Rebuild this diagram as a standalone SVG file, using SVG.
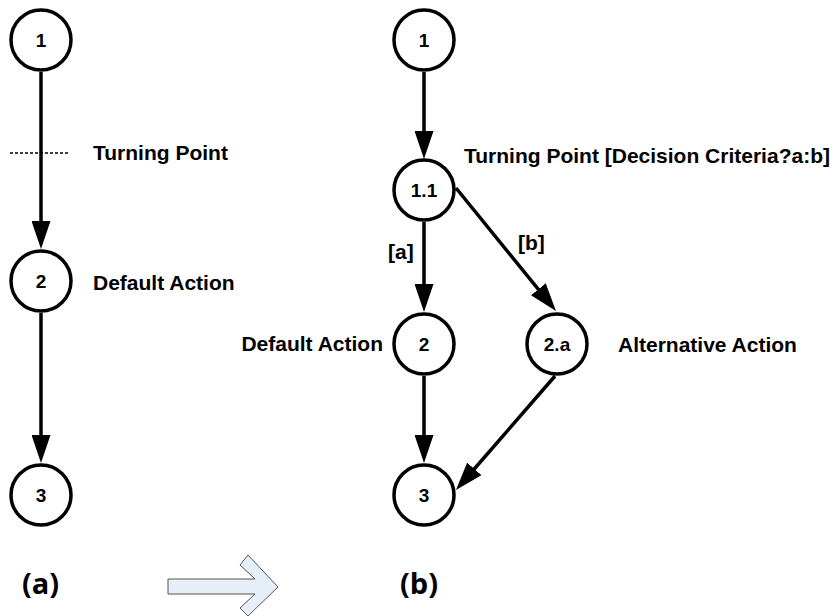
<svg xmlns="http://www.w3.org/2000/svg" width="839" height="616" viewBox="0 0 839 616">
<style>
.node circle{fill:#fff;stroke:#000;stroke-width:3.5}
.num{font-family:"Liberation Sans",Arial,sans-serif;font-weight:bold;font-size:19px;text-anchor:middle;fill:#000}
.lbl{font-family:"Liberation Sans",Arial,sans-serif;font-weight:bold;font-size:21px;fill:#000}
.cap{font-family:"Open Sans","Liberation Sans",sans-serif;font-weight:bold;font-size:29px;fill:#000}
.edge{stroke:#000;stroke-width:3.5;fill:none;marker-end:url(#ah)}
</style>
<defs>
<marker id="ah" markerUnits="userSpaceOnUse" markerWidth="28" markerHeight="19" refX="22" refY="9.5" orient="auto">
<path d="M0,0 L28,9.5 L0,19 z" fill="#000"/>
</marker>
</defs>
<rect width="839" height="616" fill="#fff"/>
<g id="connectors">
<line class="edge" x1="41" y1="72" x2="41" y2="243"/>
<line class="edge" x1="41" y1="313" x2="41" y2="457"/>
<line class="edge" x1="424" y1="72" x2="424" y2="153"/>
<line class="edge" x1="424" y1="222" x2="424" y2="306"/>
<line class="edge" x1="424" y1="376" x2="424" y2="457"/>
<line class="edge" x1="456" y1="188" x2="552.2" y2="306.4"/>
<line class="edge" x1="555" y1="376" x2="459.9" y2="485.5"/>
<line x1="10" y1="153" x2="68" y2="153" stroke="#000" stroke-width="1.5" stroke-dasharray="3,2"/>
</g>
<g id="a1" class="node"><circle cx="41" cy="40" r="30"/><text class="num" x="41" y="47">1</text></g>
<g id="a2" class="node"><circle cx="41" cy="281" r="30"/><text class="num" x="41" y="288">2</text></g>
<g id="a3" class="node"><circle cx="41" cy="495" r="30"/><text class="num" x="41" y="502">3</text></g>
<g id="b1" class="node"><circle cx="424" cy="40" r="30"/><text class="num" x="424" y="47">1</text></g>
<g id="b11" class="node"><circle cx="424" cy="190" r="30"/><text class="num" x="424" y="197">1.1</text></g>
<g id="b2" class="node"><circle cx="424" cy="344" r="30"/><text class="num" x="424" y="351">2</text></g>
<g id="b2a" class="node"><circle cx="557" cy="344" r="30"/><text class="num" x="557" y="351">2.a</text></g>
<g id="b3" class="node"><circle cx="424" cy="495" r="30"/><text class="num" x="424" y="502">3</text></g>
<g id="labels">
<text class="lbl" x="93" y="160">Turning Point</text>
<text class="lbl" x="93" y="290">Default Action</text>
<text class="lbl" x="464" y="163">Turning Point [Decision Criteria?a:b]</text>
<text class="lbl" x="383" y="351" text-anchor="end">Default Action</text>
<text class="lbl" x="618" y="352">Alternative Action</text>
<text class="lbl" x="388" y="259">[a]</text>
<text class="lbl" x="518" y="250">[b]</text>
<text class="cap" x="22" y="594">(a)</text>
<text class="cap" x="400" y="594">(b)</text>
</g>
<g id="bigarrow">
<path d="M168,579 L255,579 L240,565 L248,555 L278,587 L248,616 L240,608 L255,594 L168,594 z" fill="#e6eef8" stroke="#555" stroke-width="1"/>
</g>
</svg>
